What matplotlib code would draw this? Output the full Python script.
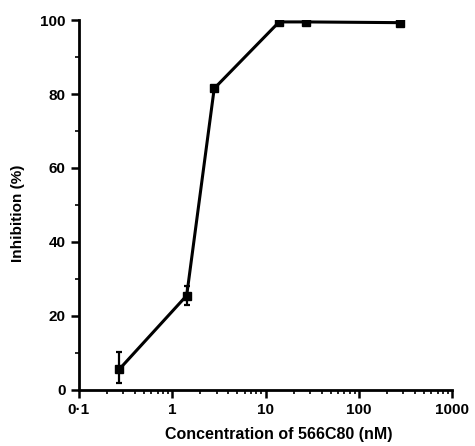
import matplotlib.pyplot as plt
from matplotlib.ticker import LogLocator, MultipleLocator, NullFormatter

plt.rcParams["font.family"] = ["Liberation Sans", "DejaVu Sans"]
plt.rcParams["font.weight"] = "bold"

# data
conc = [0.27, 1.43, 2.82, 14.0, 27.0, 276.0]
inhib = [5.5, 25.5, 81.5, 99.5, 99.5, 99.3]
err_lo = [3.6, 2.5, 0.5, 0.3, 0.3, 0.3]
err_hi = [4.6, 2.5, 0.5, 0.3, 0.3, 0.3]

xticks = [0.1, 1, 10, 100, 1000]
xticklabels = ["0\u00b71", "1", "10", "100", "1000"]
yticks = [0, 20, 40, 60, 80, 100]

fig = plt.figure(figsize=(4.75, 4.46), dpi=100)
ax = fig.add_axes([0.166, 0.126, 0.786, 0.829])

ax.errorbar(conc, inhib, yerr=[err_lo, err_hi], color="black", lw=2.2,
            marker="s", markersize=6, capsize=2.5, elinewidth=1.6, capthick=1.6)

ax.set_xscale("log")
ax.set_xlim(0.1, 1000)
ax.set_ylim(0, 100)
ax.set_xticks(xticks)
ax.set_xticklabels(xticklabels)
ax.xaxis.set_minor_locator(LogLocator(base=10, subs=range(2, 10)))
ax.xaxis.set_minor_formatter(NullFormatter())
ax.set_yticks(yticks)
ax.yaxis.set_minor_locator(MultipleLocator(10))

for s in ["top", "right"]:
    ax.spines[s].set_visible(False)
for s in ["left", "bottom"]:
    ax.spines[s].set_linewidth(2)

ax.tick_params(which="major", length=6, width=1.8, labelsize=11, direction="out")
ax.tick_params(which="minor", length=3, width=1.2, direction="out")

ax.set_xlabel("Concentration of 566C80 (nM)", fontsize=11.5, fontweight="bold")
ax.set_ylabel("Inhibition (%)", fontsize=11, fontweight="bold")
ax.xaxis.set_label_coords(0.535, -0.1)
ax.yaxis.set_label_coords(-0.145, 0.476)

fig.savefig("out.png", dpi=100)
